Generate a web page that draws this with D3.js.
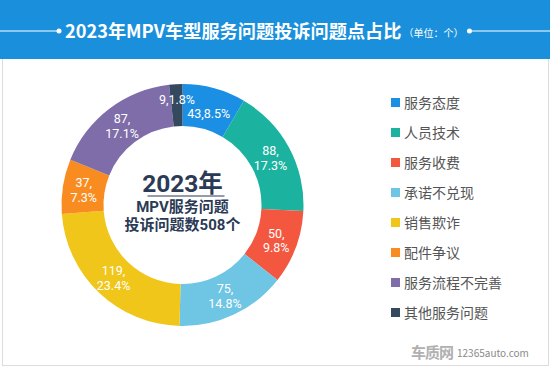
<!DOCTYPE html>
<html><head><meta charset="utf-8">
<script src="https://cdn.jsdelivr.net/npm/d3@7/dist/d3.min.js"></script>
<style>
html,body{margin:0;padding:0;background:#fff;}
svg{display:block;font-family:"Microsoft YaHei","Noto Sans CJK SC","Noto Sans",sans-serif;}
</style></head>
<body>
<svg id="c" width="550" height="368"></svg>
<script>
const categories = ["服务态度","人员技术","服务收费","承诺不兑现","销售欺诈","配件争议","服务流程不完善","其他服务问题"];
const values = [43, 88, 50, 75, 119, 37, 87, 9];
const percents = ["8.5%","17.3%","9.8%","14.8%","23.4%","7.3%","17.1%","1.8%"];
const colors = ["#1a8fe3","#1bb3a0","#f3573f","#6ec5e4","#f1c61a","#f98c20","#7e6da8","#34495e"];
const titleText = "2023年MPV车型服务问题投诉问题点占比";
const unitText = "（单位：个）";
const centerLines = ["2023年","MPV服务问题","投诉问题数508个"];

const svg = d3.select("#c");
const W = 550, H = 368;

// frame
svg.append("rect").attr("x",2.5).attr("y",0.5).attr("width",546).attr("height",365)
  .attr("fill","#fff").attr("stroke","#dcdcdc");
// header
svg.append("rect").attr("x",0).attr("y",0).attr("width",W).attr("height",59).attr("fill","#1a90dc");

const title = svg.append("text").attr("x",65).attr("y",37.5).attr("fill","#fff")
  .attr("font-size",18.2).attr("font-weight","bold").text(titleText);
title.append("tspan").attr("font-size",10).attr("font-weight","normal").attr("dx",2).attr("dy",-1).text(unitText);
const tb = title.node().getBBox();
const lineY = 31;
svg.append("line").attr("x1",0).attr("x2",tb.x-8).attr("y1",lineY).attr("y2",lineY).attr("stroke","#fff").attr("stroke-width",1);
svg.append("circle").attr("cx",tb.x-6).attr("cy",lineY).attr("r",2.5).attr("fill","#fff");
svg.append("circle").attr("cx",tb.x+tb.width+6).attr("cy",lineY).attr("r",2.5).attr("fill","#fff");
svg.append("line").attr("x1",tb.x+tb.width+8).attr("x2",W).attr("y1",lineY).attr("y2",lineY).attr("stroke","#fff").attr("stroke-width",1);

// pie
const cx = 182.5, cy = 205, rO = 121, rI = 79;
const g = svg.append("g").attr("transform",`translate(${cx},${cy})`);
const data = categories.map((c,i)=>({name:c,value:values[i],pct:percents[i],color:colors[i]}));
const pie = d3.pie().value(d=>d.value).sort(null);
const arcs = pie(data);
const arc = d3.arc().innerRadius(rI).outerRadius(rO);
g.selectAll("path").data(arcs).join("path").attr("d",arc).attr("fill",d=>d.data.color);

// labels
const labelArc = d3.arc().innerRadius((rI+rO)/2).outerRadius((rI+rO)/2);
const labs = arcs.map(a=>{
  const [x,y] = labelArc.centroid(a);
  const mid = (a.startAngle+a.endAngle)/2;
  const single = Math.cos(mid) > 0.9;
  return {a,x,y,single};
});
const singles = labs.filter(l=>l.single);
for (let i=0;i<singles.length;i++) for (let j=i+1;j<singles.length;j++){
  const A=singles[i],B=singles[j];
  const need = 14, d = Math.abs(A.y-B.y);
  if (d<need){ const s=(need-d)/2; if (A.y<B.y){A.y-=s;B.y+=s;} else {A.y+=s;B.y-=s;} }
}
const latinFirst = "Roboto, 'Noto Sans CJK SC', sans-serif";
labs.forEach(l=>{
  const mk = (y,txt)=>g.append("text").attr("text-anchor","middle").attr("fill","#fff")
     .attr("font-family",latinFirst).attr("font-size",12.5).attr("x",l.x).attr("y",y).text(txt);
  if (l.single){
    mk(l.y+4.5, l.a.data.value+","+l.a.data.pct);
  } else {
    mk(l.y-2.5, l.a.data.value+",");
    mk(l.y+12.2, l.a.data.pct);
  }
});

// center text
const navy = "#2b3a55";
g.append("text").attr("text-anchor","middle").attr("x",0).attr("y",-13).attr("fill",navy)
  .attr("font-family",latinFirst).attr("font-size",24.5).attr("font-weight","bold").text(centerLines[0]);
g.append("line").attr("x1",-35).attr("x2",42).attr("y1",-9).attr("y2",-9).attr("stroke",navy).attr("stroke-width",1);
g.append("text").attr("text-anchor","middle").attr("x",0).attr("y",7).attr("fill",navy)
  .attr("font-family",latinFirst).attr("font-size",15).attr("font-weight","bold").text(centerLines[1]);
g.append("text").attr("text-anchor","middle").attr("x",0).attr("y",25).attr("fill",navy)
  .attr("font-family",latinFirst).attr("font-size",15).attr("font-weight","bold").text(centerLines[2]);

// legend
const lg = svg.append("g").attr("transform","translate(391,103)");
const rows = lg.selectAll("g").data(data).join("g").attr("transform",(d,i)=>`translate(0,${i*30})`);
rows.append("rect").attr("x",0).attr("y",-5).attr("width",9).attr("height",9).attr("fill",d=>d.color);
rows.append("text").attr("x",13).attr("y",5).attr("font-size",14).attr("fill","#555").text(d=>d.name);

// watermark
svg.append("text").attr("x",411).attr("y",358).attr("font-size",15).attr("font-weight","bold")
  .attr("fill","#b0b0b0").attr("letter-spacing",-1).text("车质网");
svg.append("text").attr("x",457).attr("y",357).attr("font-size",10).attr("fill","#8a8a8a").text("12365auto.com");
</script>
</body></html>
